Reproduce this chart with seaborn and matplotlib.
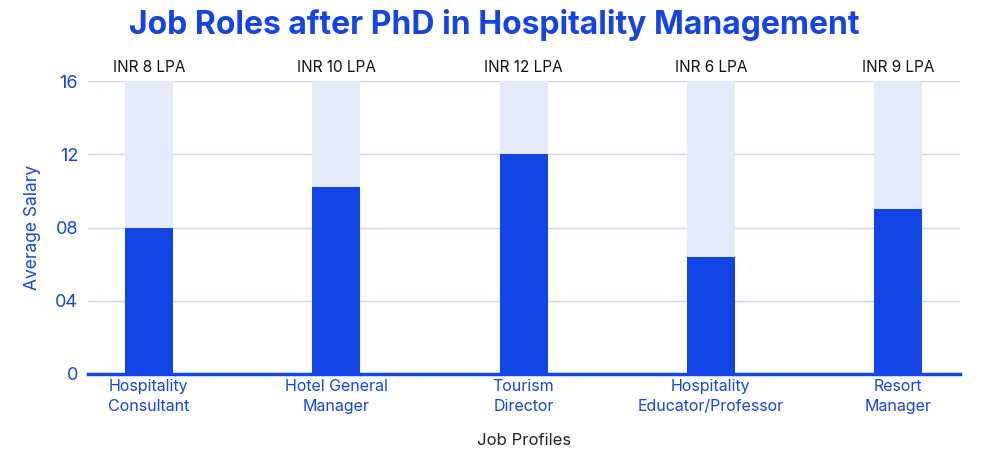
import matplotlib
matplotlib.use("Agg")
import matplotlib.pyplot as plt
import seaborn as sns
import pandas as pd

# Chart data
roles = ["Hospitality\nConsultant", "Hotel General\nManager", "Tourism\nDirector",
         "Hospitality\nEducator/Professor", "Resort\nManager"]
salary = [8.0, 10.2, 12.0, 6.4, 9.0]
salary_labels = ["INR 8 LPA", "INR 10 LPA", "INR 12 LPA", "INR 6 LPA", "INR 9 LPA"]
y_max = 16
y_ticks = [0, 4, 8, 12, 16]
y_tick_labels = ["0", "04", "08", "12", "16"]

BLUE = "#1245e6"
LIGHT = "#e4eafa"
GRID = "#cdd6f0"

sns.set_theme(style="white")
plt.rcParams["font.family"] = ["Inter", "DejaVu Sans"]

df = pd.DataFrame({"role": roles, "salary": salary, "full": [y_max] * len(roles)})

fig = plt.figure(figsize=(10, 4.61), dpi=100)
ax = fig.add_axes([0.088, 0.189, 0.872, 0.635])

ax.set_axisbelow(True)
ax.yaxis.grid(True, color=GRID, linewidth=1)
sns.barplot(data=df, x="role", y="full", color=LIGHT, width=0.256, saturation=1,
            linewidth=0, ax=ax, zorder=2)
sns.barplot(data=df, x="role", y="salary", color=BLUE, width=0.256, saturation=1,
            linewidth=0, ax=ax, zorder=3)

for i, lab in enumerate(salary_labels):
    ax.text(i, y_max + 0.35, lab, ha="center", va="bottom", fontsize=11, color="#111111")

ax.set_xlim(-0.325, 4.33)
ax.set_ylim(0, y_max)
ax.set_yticks(y_ticks)
ax.set_yticklabels(y_tick_labels)
ax.tick_params(axis="y", labelsize=13, colors=BLUE, length=0, pad=7)
ax.tick_params(axis="x", labelsize=11.5, colors=BLUE, length=0, pad=4)
for lab in ax.get_xticklabels():
    lab.set_linespacing(1.35)

for s in ["top", "right", "left"]:
    ax.spines[s].set_visible(False)
ax.spines["bottom"].set_color(BLUE)
ax.spines["bottom"].set_linewidth(2.5)
ax.spines["bottom"].set_zorder(4)

ax.set_ylabel("Average Salary", fontsize=12.5, color=BLUE, labelpad=10)
ax.set_xlabel("Job Profiles", fontsize=12, color="#222222", labelpad=14)

fig.suptitle("Job Roles after PhD in Hospitality Management", fontsize=23,
             fontweight="bold", color="#1444e4", x=0.494, y=0.98)

fig.savefig("out.png", dpi=100)
